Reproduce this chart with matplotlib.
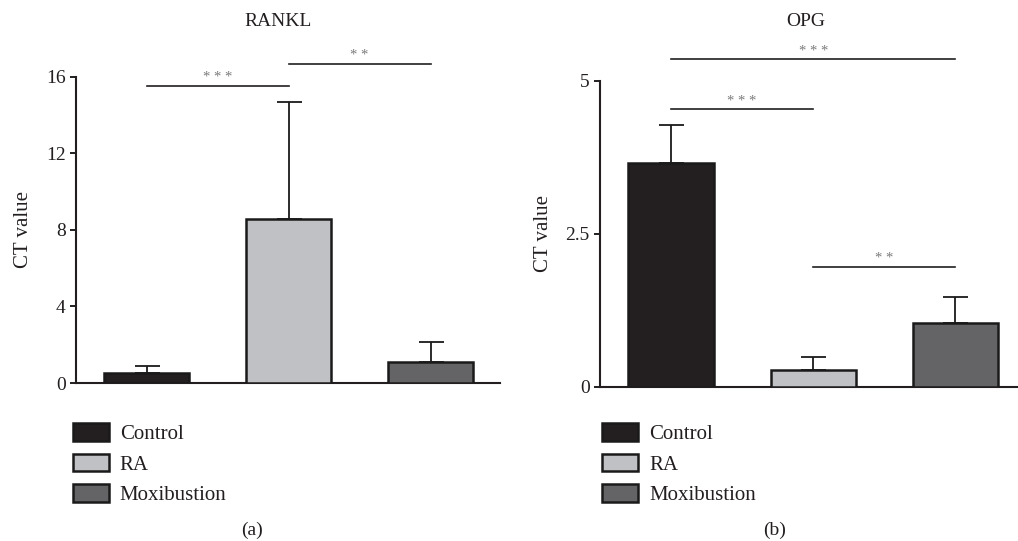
import matplotlib
matplotlib.use("Agg")
import matplotlib.pyplot as plt
from matplotlib.patches import Patch

plt.rcParams["font.family"] = ["Liberation Serif", "DejaVu Serif"]

# ------------------------------------------------------------------
# Donnees
# ------------------------------------------------------------------
groupes = ["Control", "RA", "Moxibustion"]
couleurs = ["#231f20", "#c0c1c4", "#646466"]

rankl_moy = [0.52, 8.57, 1.11]
rankl_err = [0.37, 6.11, 1.03]
rankl_sig = [(0, 1, 15.53, "* * *"), (1, 2, 16.67, "* *")]
rankl_ticks = [0, 4, 8, 12, 16]
rankl_ticklabels = ["0", "4", "8", "12", "16"]

opg_moy = [3.65, 0.27, 1.04]
opg_err = [0.63, 0.22, 0.43]
opg_sig = [(0, 2, 5.35, "* * *"), (0, 1, 4.53, "* * *"), (1, 2, 1.96, "* *")]
opg_ticks = [0, 2.5, 5]
opg_ticklabels = ["0", "2.5", "5"]

W, H = 1018, 541
fig = plt.figure(figsize=(W / 100, H / 100), dpi=100)


def panneau(rect, moy, err, sig, ticks, ticklabels, xmax, ymax, titre, lettre,
            titre_x, lettre_x, leg_x):
    ax = fig.add_axes(rect)
    x = list(range(len(moy)))
    ax.bar(x, moy, width=0.6, color=couleurs, edgecolor="#1a1a1a",
           linewidth=1.8, zorder=3)
    ax.errorbar(x, moy, yerr=[[0] * len(err), err], fmt="none",
                ecolor="#1a1a1a", elinewidth=1.3, capsize=9, capthick=1.3,
                zorder=2)
    ax.set_xlim(-0.5, xmax)
    ax.set_ylim(0, ymax)
    ax.set_xticks([])
    ax.set_yticks(ticks)
    ax.set_yticklabels(ticklabels)
    ax.tick_params(axis="y", direction="out", length=4.5, width=1.4,
                   labelsize=14, pad=3, colors="#231f20")
    for s in ["top", "right"]:
        ax.spines[s].set_visible(False)
    for s in ["left", "bottom"]:
        ax.spines[s].set_linewidth(1.5)
        ax.spines[s].set_color("#231f20")
    ax.set_ylabel("CT value", fontsize=15, color="#231f20", labelpad=9)

    # barres de significativite
    for a, b, y, txt in sig:
        ax.plot([a, b], [y, y], color="#231f20", lw=1.2, clip_on=False)
        ax.annotate(txt, xy=((a + b) / 2, y), xytext=(0, 1),
                    textcoords="offset points", ha="center", va="bottom",
                    fontsize=10.5, color="#7a7a7a", annotation_clip=False)

    fig.text(titre_x / W, 1 - 22 / H, titre, ha="center", va="center",
             fontsize=14, color="#231f20")
    fig.text(lettre_x / W, 1 - 530 / H, lettre, ha="center", va="center",
             fontsize=14, color="#231f20")

    handles = [Patch(facecolor=c, edgecolor="#1a1a1a", linewidth=1.8, label=g)
               for c, g in zip(couleurs, groupes)]
    fig.legend(handles=handles, loc="upper left",
               bbox_to_anchor=(leg_x / W, 1 - 423 / H), frameon=False,
               fontsize=15, handlelength=1.75, handleheight=0.95,
               handletextpad=0.5, labelspacing=0.45, borderpad=0,
               borderaxespad=0, labelcolor="#231f20")
    return ax


panneau([76 / W, 158 / H, 424 / W, 306.3 / H], rankl_moy, rankl_err, rankl_sig,
        rankl_ticks, rankl_ticklabels, 2.49, 16, "RANKL", "(a)", 278, 252, 73)
panneau([600 / W, 154.3 / H, 418 / W, 306 / H], opg_moy, opg_err, opg_sig,
        opg_ticks, opg_ticklabels, 2.44, 5, "OPG", "(b)", 806, 775, 602)

plt.savefig("out.png", dpi=100)
plt.close()
